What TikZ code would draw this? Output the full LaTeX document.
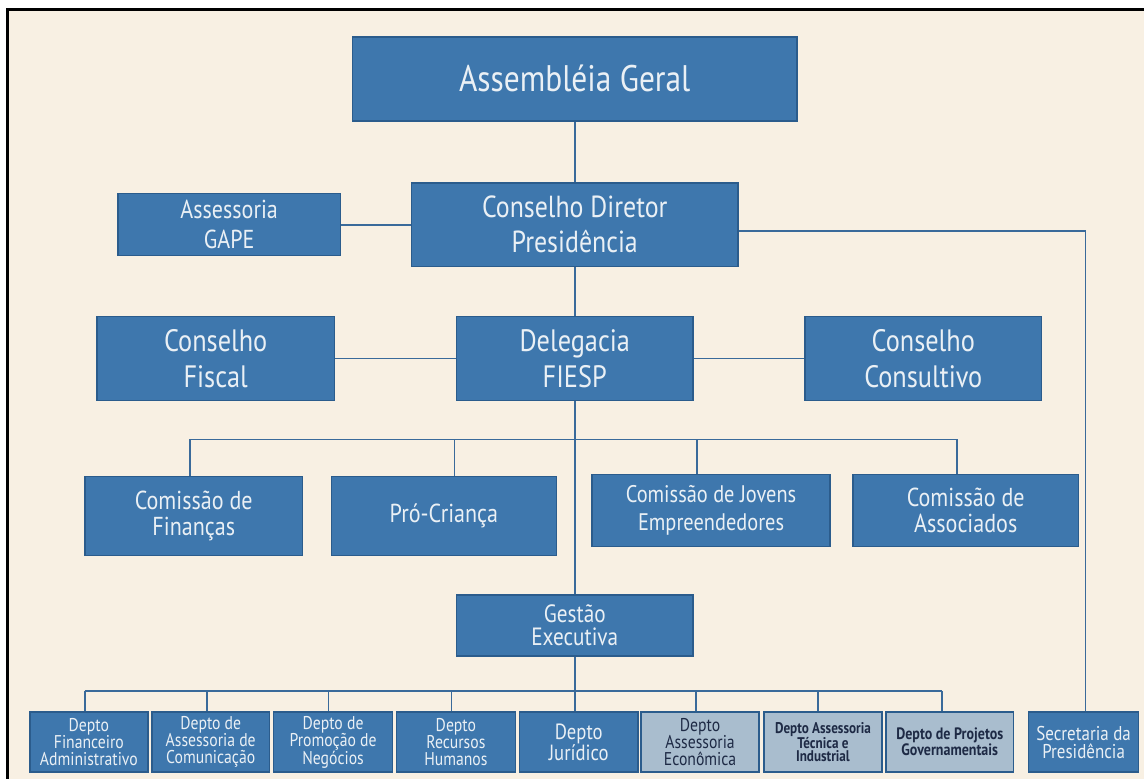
\documentclass[tikz,border=0pt]{standalone}
\usepackage{fontspec}
\setmainfont{PT Sans}[FakeStretch=0.85]
\definecolor{bg}{HTML}{F8F0E3}
\definecolor{boxblue}{HTML}{3E77AD}
\definecolor{boxedge}{HTML}{2B5C8C}
\definecolor{linecol}{HTML}{3A6A9A}
\definecolor{lighttext}{HTML}{EAF0F5}
\definecolor{grayfill}{HTML}{A9BDCE}
\definecolor{darktext}{HTML}{1E2A45}
\begin{document}
\begin{tikzpicture}[x=1pt,y=-1pt,
  orgbox/.style={draw=boxedge,fill=boxblue,line width=1.5pt,text=lighttext,
    align=center,inner sep=0pt,anchor=center},
  graybox/.style={orgbox,fill=grayfill,text=darktext},
  conn/.style={draw=linecol,line width=1.8pt},
  fsA/.style={font=\fontsize{37}{40}\selectfont},
  fsB/.style={font=\fontsize{30.5}{35}\selectfont},
  fsBb/.style={font=\fontsize{31}{36}\selectfont},
  fsG/.style={font=\fontsize{26}{30}\selectfont},
  fsC/.style={font=\fontsize{26}{26}\selectfont},
  fsJ/.style={font=\fontsize{24}{28}\selectfont},
  fsE/.style={font=\fontsize{25}{23}\selectfont},
  fsD/.style={font=\fontsize{18.5}{17}\selectfont},
]
% page and frame
\fill[white] (0,0) rectangle (1145,780);
\fill[bg] (8,10) rectangle (1145,780);
\draw[black,line width=3pt] (1145,10) -- (8,10) -- (8,780);

% level 1-2
\node[orgbox,fsA,minimum width=445pt,minimum height=84pt] (asm) at (575.5,79) {Assembléia Geral};
\node[orgbox,fsB,minimum width=327pt,minimum height=84pt] (cd) at (575.5,225) {Conselho Diretor\\Presidência};
\node[orgbox,fsG,minimum width=223pt,minimum height=62pt] (gape) at (229.5,225) {Assessoria\\GAPE};
\node[orgbox,fsBb,minimum width=237pt,minimum height=84pt] (deleg) at (575.5,359) {Delegacia\\FIESP};
\node[orgbox,fsBb,minimum width=238pt,minimum height=84pt] (fiscal) at (216,359) {Conselho\\Fiscal};
\node[orgbox,fsBb,minimum width=237pt,minimum height=84pt] (consult) at (924.5,359) {Conselho\\Consultivo};

% level 3
\node[orgbox,fsC,minimum width=218pt,minimum height=79pt] (fin) at (194,516.5) {Comissão de\\Finanças};
\node[orgbox,fsC,minimum width=225pt,minimum height=79pt] (pro) at (444.5,516.5) {Pró-Criança};
\node[orgbox,fsJ,minimum width=238pt,minimum height=72pt] (jov) at (712,511) {Comissão de Jovens\\Empreendedores};
\node[orgbox,fsC,minimum width=226pt,minimum height=72pt] (assoc) at (967,511) {Comissão de\\Associados};

% gestao
\node[orgbox,fsE,minimum width=237pt,minimum height=61pt] (gest) at (575.5,626.5) {Gestão\\Executiva};

% bottom row
\node[orgbox,fsD,minimum width=118pt,minimum height=60pt] (d1) at (89,743) {Depto\\Financeiro\\Administrativo};
\node[orgbox,fsD,minimum width=118pt,minimum height=60pt] (d2) at (211,743) {Depto de\\Assessoria de\\Comunicação};
\node[orgbox,fsD,minimum width=119pt,minimum height=60pt] (d3) at (333.5,743) {Depto de\\Promoção de\\Negócios};
\node[orgbox,fsD,minimum width=119pt,minimum height=60pt] (d4) at (456.5,743) {Depto\\Recursos\\Humanos};
\node[orgbox,font=\fontsize{22}{19}\selectfont,minimum width=119pt,minimum height=60pt] (d5) at (579.5,743) {Depto\\Jurídico};
\node[graybox,font=\fontsize{18.5}{17}\selectfont,minimum width=118pt,minimum height=60pt] (d6) at (701,743) {Depto\\Assessoria\\Econômica};
\node[graybox,font=\bfseries\fontsize{15.5}{13.5}\selectfont,minimum width=118pt,minimum height=60pt] (d7) at (824,743) {Depto Assessoria\\Técnica e\\Industrial};
\node[graybox,font=\bfseries\fontsize{16.5}{14}\selectfont,minimum width=128pt,minimum height=60pt] (d8) at (951,743) {Depto de Projetos\\Governamentais};
\node[orgbox,font=\fontsize{20}{18}\selectfont,minimum width=110pt,minimum height=60pt] (sec) at (1085,743) {Secretaria da\\Presidência};

% connectors, upper part
\draw[conn] (asm.south) -- (cd.north);
\draw[conn] (cd.south) -- (deleg.north);
\draw[conn] (gape.east) -- (gape.east -| cd.west);
\coordinate (secturn) at (1087,231);
\draw[conn] (cd.east |- secturn) -- (secturn) -- (secturn |- sec.north);
\draw[conn] (deleg.west) -- (fiscal.east);
\draw[conn] (deleg.east) -- (consult.west);
\draw[conn] (deleg.south) -- (gest.north);

% row 3 bus
\coordinate (b3L) at (190,440);
\coordinate (b3R) at (958,440);
\draw[conn] (b3L) -- (b3R);
\draw[conn] (b3L) -- (b3L |- fin.north);
\draw[conn] (455,440) -- (455,0 |- pro.north);
\draw[conn] (698,440) -- (698,0 |- jov.north);
\draw[conn] (b3R) -- (b3R |- assoc.north);

% bottom bus
\coordinate (b4L) at (85,692);
\coordinate (b4R) at (943,692);
\draw[conn] (gest.south) -- (gest.south |- d5.north);
\draw[conn] (b4L) -- (b4R);
\draw[conn] (b4L) -- (b4L |- d1.north);
\draw[conn] (207,692) -- (207,0 |- d2.north);
\draw[conn] (329,692) -- (329,0 |- d3.north);
\draw[conn] (452,692) -- (452,0 |- d4.north);
\draw[conn] (697,692) -- (697,0 |- d6.north);
\draw[conn] (819,692) -- (819,0 |- d7.north);
\draw[conn] (b4R) -- (b4R |- d8.north);
\end{tikzpicture}
\end{document}
